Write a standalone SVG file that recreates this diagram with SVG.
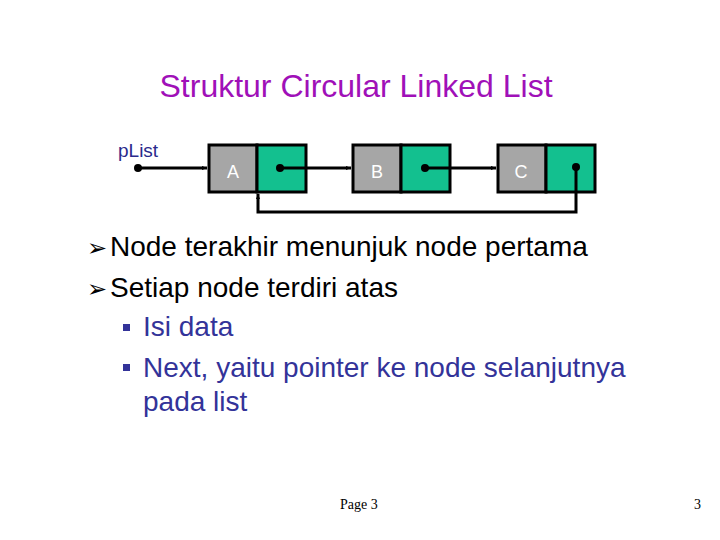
<svg xmlns="http://www.w3.org/2000/svg" width="720" height="540" viewBox="0 0 720 540">
<defs>
<marker id="arr" viewBox="0 0 10 10" refX="10" refY="5" markerWidth="5" markerHeight="5" orient="auto" markerUnits="userSpaceOnUse">
<path d="M0,1 L10,5 L0,9 z" fill="#000"/>
</marker>
<style>
.data{fill:#a6a6a6;stroke:#000;stroke-width:3}
.next{fill:#13c08f;stroke:#000;stroke-width:3}
.lbl{font-family:"Liberation Sans",Arial,sans-serif;font-size:18px;fill:#fff;text-anchor:middle}
.conn{stroke:#000;stroke-width:3;fill:none}
.dot{fill:#000}
.body{font-family:"Liberation Sans",Arial,sans-serif;font-size:28px}
.foot{font-family:"Liberation Serif","Times New Roman",serif;font-size:14px;fill:#000}
.sq{fill:#333399}
</style>
</defs>
<rect width="720" height="540" fill="#fff"/>
<text x="356" y="97" text-anchor="middle" font-family="Liberation Sans, Arial, sans-serif" font-size="32" fill="#a010b8">Struktur Circular Linked List</text>
<text x="118" y="157" font-family="Liberation Sans, Arial, sans-serif" font-size="19" fill="#2a2a8c">pList</text>
<g id="nodeA">
<rect class="data" x="209" y="145" width="48" height="47"/>
<rect class="next" x="257" y="145" width="49" height="47"/>
<text class="lbl" x="233" y="178">A</text>
</g>
<g id="nodeB">
<rect class="data" x="353" y="145" width="48" height="47"/>
<rect class="next" x="401" y="145" width="49" height="47"/>
<text class="lbl" x="377" y="178">B</text>
</g>
<g id="nodeC">
<rect class="data" x="498" y="145" width="48" height="47"/>
<rect class="next" x="546" y="145" width="49" height="47"/>
<text class="lbl" x="521" y="178">C</text>
</g>
<g id="connectors">
<circle class="dot" cx="138" cy="168" r="4"/>
<line class="conn" x1="138" y1="168" x2="207" y2="168" marker-end="url(#arr)"/>
<circle class="dot" cx="280" cy="168" r="4"/>
<line class="conn" x1="280" y1="168" x2="351" y2="168" marker-end="url(#arr)"/>
<circle class="dot" cx="425" cy="168" r="4"/>
<line class="conn" x1="425" y1="168" x2="496" y2="168" marker-end="url(#arr)"/>
<circle class="dot" cx="576" cy="167" r="4"/>
<polyline class="conn" points="576,167 576,212 258,212 258,194" marker-end="url(#arr)"/>
</g>
<g class="body">
<text x="87" y="256" fill="#000" font-family="DejaVu Sans, sans-serif" font-size="24">➢</text>
<text x="110" y="256" fill="#000">Node terakhir menunjuk node pertama</text>
<text x="87" y="297" fill="#000" font-family="DejaVu Sans, sans-serif" font-size="24">➢</text>
<text x="110" y="297" fill="#000">Setiap node terdiri atas</text>
<rect class="sq" x="123" y="324" width="7" height="7"/>
<text x="143" y="336" fill="#333399">Isi data</text>
<rect class="sq" x="123" y="364" width="7" height="7"/>
<text x="143" y="377" fill="#333399">Next, yaitu pointer ke node selanjutnya</text>
<text x="143" y="411" fill="#333399">pada list</text>
</g>
<text class="foot" x="340" y="509">Page 3</text>
<text class="foot" x="694" y="509">3</text>
</svg>
